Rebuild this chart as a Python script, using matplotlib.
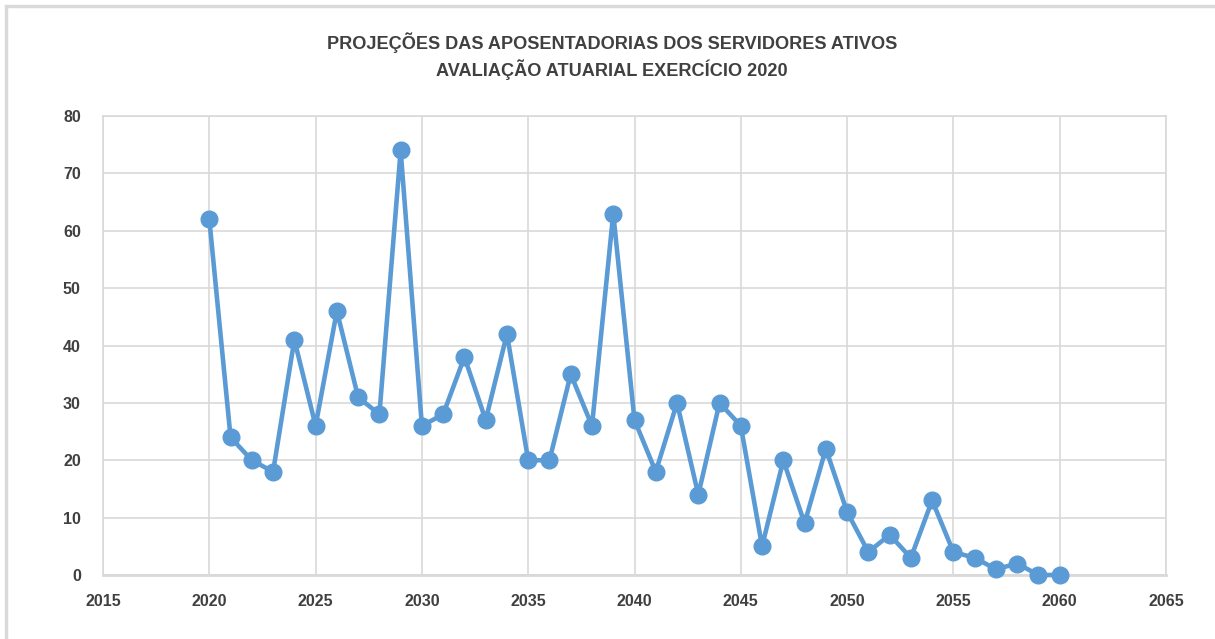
import matplotlib

matplotlib.use("Agg")
import matplotlib.pyplot as plt
from matplotlib.patches import Rectangle

# ---------------------------------------------------------------------------
# Data
# ---------------------------------------------------------------------------
years = list(range(2020, 2061))
aposentadorias = [62, 24, 20, 18, 41, 26, 46, 31, 28, 74,
                  26, 28, 38, 27, 42, 20, 20, 35, 26, 63,
                  27, 18, 30, 14, 30, 26, 5, 20, 9, 22,
                  11, 4, 7, 3, 13, 4, 3, 1, 2, 0, 0]
title_lines = ["PROJEÇÕES DAS APOSENTADORIAS DOS SERVIDORES ATIVOS",
               "AVALIAÇÃO ATUARIAL EXERCÍCIO 2020"]

BLUE = "#5B9BD5"
GRID = "#D9D9D9"
TEXT = "#404040"

plt.rcParams["font.family"] = ["Liberation Sans", "DejaVu Sans"]

W, H = 1215, 639
fig = plt.figure(figsize=(W / 100, H / 100), dpi=100)
fig.patch.set_facecolor("white")

# outer chart border (cropped on right/bottom)
fig.patches.append(Rectangle((6 / W, -0.1), 1.2, (H - 6) / H + 0.1,
                             transform=fig.transFigure, fill=False,
                             edgecolor=GRID, linewidth=2.5))

ax = fig.add_axes([103 / W, (H - 575) / H, (1166 - 103) / W, (575 - 116) / H])
ax.plot(years, aposentadorias, color=BLUE, linewidth=3.3, marker="o",
        markersize=12, markerfacecolor=BLUE, markeredgecolor=BLUE,
        solid_capstyle="round", zorder=3, clip_on=False)

ax.set_xlim(2015, 2065)
ax.set_ylim(0, 80)
ax.set_xticks(range(2015, 2066, 5))
ax.set_yticks(range(0, 81, 10))
ax.grid(True, color=GRID, linewidth=1.2)
ax.set_axisbelow(True)
for s in ax.spines.values():
    s.set_color(GRID)
    s.set_linewidth(1.2)
ax.spines["bottom"].set_linewidth(2)
ax.tick_params(length=0, labelsize=11.5, labelcolor=TEXT)
ax.tick_params(axis="x", pad=14)
ax.tick_params(axis="y", pad=16)
for lbl in ax.get_xticklabels() + ax.get_yticklabels():
    lbl.set_fontweight("bold")

fig.text(612 / W, 1 - 43 / H, title_lines[0], ha="center", va="center",
         fontsize=13.1, fontweight="bold", color=TEXT)
fig.text(612 / W, 1 - 70 / H, title_lines[1], ha="center", va="center",
         fontsize=13.1, fontweight="bold", color=TEXT)

fig.savefig("out.png", dpi=100)
